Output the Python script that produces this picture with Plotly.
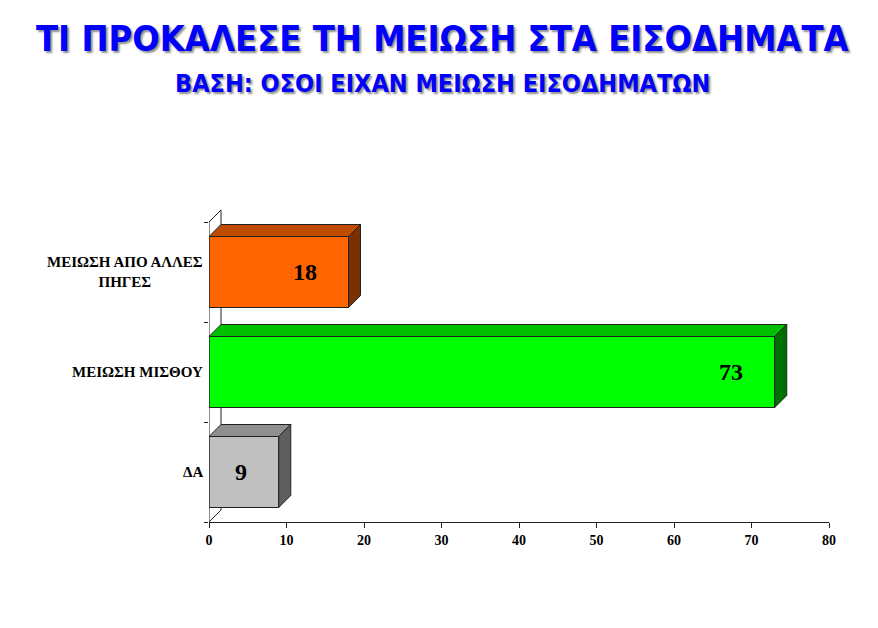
import plotly.graph_objects as go

# data
categories = ["ΔΑ", "ΜΕΙΩΣΗ ΜΙΣΘΟΥ", "ΜΕΙΩΣΗ ΑΠΟ ΑΛΛΕΣ<br>ΠΗΓΕΣ"]
values = [9, 73, 18]
x_ticks = [0, 10, 20, 30, 40, 50, 60, 70, 80]
title_1 = "ΤΙ ΠΡΟΚΑΛΕΣΕ ΤΗ ΜΕΙΩΣΗ ΣΤΑ ΕΙΣΟΔΗΜΑΤΑ"
title_2 = "ΒΑΣΗ: ΟΣΟΙ ΕΙΧΑΝ ΜΕΙΩΣΗ ΕΙΣΟΔΗΜΑΤΩΝ"

# styles
front_colors = ["#C0C0C0", "#00FF00", "#FF6600"]
top_colors = ["#8F8F8F", "#00C000", "#C04C00"]
side_colors = ["#5F5F5F", "#007000", "#7A3000"]
BAR_W = 0.71
DX = 1.55   # 3d depth in x units
DY = 0.12   # 3d depth in category units
SERIF = "Liberation Serif, Times New Roman, serif"
TITLE_FONT = "DejaVu Sans Condensed, DejaVu Sans, sans-serif"
EDGE = "#202020"

pos = list(range(len(categories)))

fig = go.Figure()
fig.add_trace(go.Bar(
    x=values, y=pos, orientation="h", width=BAR_W,
    marker=dict(color=front_colors, line=dict(color=EDGE, width=1)),
    hoverinfo="skip", showlegend=False,
))

shapes = []
# back wall of the 3d box
shapes.append(dict(type="path", xref="x", yref="y", layer="below",
                   path=f"M 0,{pos[0]-0.5} L {DX},{pos[0]-0.5+DY} L {DX},{pos[-1]+0.5+DY} L 0,{pos[-1]+0.5}",
                   line=dict(color=EDGE, width=1)))
for p, v, tc, sc in zip(pos, values, top_colors, side_colors):
    t = p + BAR_W / 2
    b = p - BAR_W / 2
    shapes.append(dict(type="path", xref="x", yref="y", layer="above",
                       path=f"M 0,{t} L {DX},{t+DY} L {v+DX},{t+DY} L {v},{t} Z",
                       fillcolor=tc, line=dict(color=EDGE, width=1)))
    shapes.append(dict(type="path", xref="x", yref="y", layer="above",
                       path=f"M {v},{b} L {v},{t} L {v+DX},{t+DY} L {v+DX},{b+DY} Z",
                       fillcolor=sc, line=dict(color=EDGE, width=1)))

annotations = []
for p, c in zip(pos, categories):
    annotations.append(dict(x=0, xref="paper", y=p, yref="y", text=c,
                            xanchor="right", xshift=-4, align="center", showarrow=False,
                            font=dict(family=SERIF, size=15, color="black", weight="bold")))
for p, v in zip(pos, values):
    annotations.append(dict(x=v, xref="x", y=p, yref="y", text=str(v),
                            xanchor="right", xshift=-30, showarrow=False,
                            font=dict(family=SERIF, size=24, color="black", weight="bold")))

shadow = "2px 2px 2px #909090"
annotations.append(dict(x=0.376, xref="paper", y=1.551, yref="paper", text=title_1,
                        xanchor="center", yanchor="middle", showarrow=False,
                        font=dict(family=TITLE_FONT, size=36, color="#0000FF", weight="bold", shadow=shadow)))
annotations.append(dict(x=0.376, xref="paper", y=1.404, yref="paper", text=title_2,
                        xanchor="center", yanchor="middle", showarrow=False,
                        font=dict(family=TITLE_FONT, size=25, color="#0000FF", weight="bold", shadow=shadow)))

fig.update_layout(
    width=878, height=628,
    paper_bgcolor="white", plot_bgcolor="white",
    margin=dict(l=209, r=49, t=210, b=106),
    xaxis=dict(range=[0, 80], tickvals=x_ticks, showline=True, linecolor=EDGE,
               ticks="outside", ticklen=5, tickcolor=EDGE, showgrid=False, zeroline=False,
               tickfont=dict(family=SERIF, size=14, color="black", weight="bold")),
    yaxis=dict(range=[pos[0] - 0.5, pos[-1] + 0.5 + DY], tickvals=[p - 0.5 for p in pos] + [pos[-1] + 0.5],
               showticklabels=False, ticks="outside", ticklen=4, tickcolor=EDGE,
               showgrid=False, zeroline=False, showline=False),
    shapes=shapes,
    annotations=annotations,
)
# front left edge of the box
fig.add_shape(type="line", xref="x", yref="y", x0=0, x1=0, y0=pos[0] - 0.5, y1=pos[-1] + 0.5,
              line=dict(color=EDGE, width=1))

fig.write_html("out.html", config={"displayModeBar": False},
               post_script="document.body.style.margin='0px';")
